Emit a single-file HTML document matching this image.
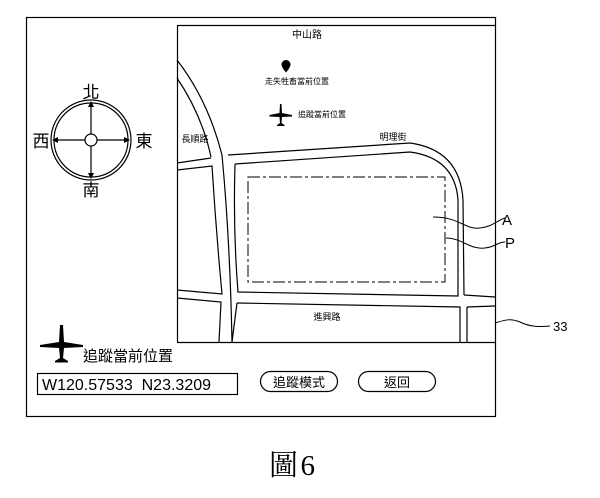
<!DOCTYPE html>
<html><head><meta charset="utf-8"><style>
html,body{margin:0;padding:0;background:#fff;}
svg{display:block;}
text{font-family:"Liberation Sans","Noto Sans CJK TC",sans-serif;fill:#000;}
</style></head><body>
<svg width="600" height="498" viewBox="0 0 600 498" xmlns="http://www.w3.org/2000/svg">
<g fill="none" stroke="#000" stroke-width="1.2">
<rect x="26.5" y="17.5" width="469" height="399"/>
<line x1="177" y1="25.5" x2="495" y2="25.5"/>
<line x1="177.5" y1="25" x2="177.5" y2="342"/>
<line x1="177" y1="342.5" x2="495" y2="342.5"/>
<!-- curved road -->
<path d="M177 60 Q208 100 222 155 Q230 240 232 342"/>
<path d="M177 78 Q202 115 211 157"/>
<path d="M177 163 L211 158"/>
<path d="M177 170 L212 166 Q216 230 222 294 L177 290"/>
<path d="M177 298 L221 302 L219 342"/>
<!-- middle block -->
<path d="M228 155 L410 143 Q460 150 463 200 L464 295"/>
<path d="M235 164 L410 152 Q455 158 458 200 L458 296 L238 292 Q233 230 235 164"/>
<path d="M237 303 L460 307 L460 342"/>
<path d="M237 303 L232 342"/>
<path d="M467 307 L495 306"/>
<path d="M464 295 L495 297"/>
<path d="M467 307 L467 342"/>
<rect x="248" y="177" width="197" height="105" stroke-dasharray="12,3,3,3" stroke-width="1"/>
<path d="M433 217 C460 217 465 230 480 228 C492 227 498 220 505 218" stroke-width="1"/>
<path d="M446 238 C462 238 470 250 485 248 C495 247 498 242 505 242" stroke-width="1"/>
<path d="M495 323 C505 320 510 318 520 322 C530 327 540 327 550 326" stroke-width="1"/>
<circle cx="91" cy="140" r="40"/>
<circle cx="91" cy="140" r="37"/>
<circle cx="91" cy="140" r="6"/>
<line x1="91" y1="134" x2="91" y2="104"/>
<line x1="91" y1="146" x2="91" y2="176"/>
<line x1="85" y1="140" x2="55" y2="140"/>
<line x1="97" y1="140" x2="127" y2="140"/>
<rect x="37.5" y="373.5" width="200" height="21"/>
<rect x="260.5" y="371.5" width="77" height="20" rx="10"/>
<rect x="358.5" y="371.5" width="77" height="20" rx="10"/>
</g>
<g fill="#000">
<path d="M91 101 l-3 6 h6z M91 179 l-3 -6 h6z M52 140 l6 -3 v6z M130 140 l-6 -3 v6z"/>
<path d="M286 60 a4.5 4.5 0 0 1 4.5 4.5 c0 3 -4.5 8 -4.5 8 c0 0 -4.5 -5 -4.5 -8 a4.5 4.5 0 0 1 4.5 -4.5z"/>
<path d="M280 104 h1.5 l0.5 9 l10 2 v1.5 l-10 0.5 l-0.5 6 l3 2 v1 h-7.5 v-1 l3 -2 l-0.5 -6 l-10 -0.5 v-1.5 l10 -2 z"/>
<path d="M60 325 h3 l1 17 l19 3 v2 l-19 1 l-1 10 l5 3 v1.5 h-13 v-1.5 l5 -3 l-1 -10 l-19 -1 v-2 l19 -3 z"/>
</g>
<text x="91" y="98" font-size="17" text-anchor="middle">北</text>
<text x="91" y="196" font-size="17" text-anchor="middle">南</text>
<text x="41" y="147" font-size="17" text-anchor="middle">西</text>
<text x="144" y="147" font-size="17" text-anchor="middle">東</text>
<text x="307" y="38" font-size="10" text-anchor="middle">中山路</text>
<text x="297" y="84" font-size="8" text-anchor="middle">走失牲畜當前位置</text>
<text x="322" y="117" font-size="8" text-anchor="middle">追蹤當前位置</text>
<text x="195" y="142" font-size="9" text-anchor="middle">長順路</text>
<text x="393" y="140" font-size="9" text-anchor="middle">明理街</text>
<text x="327" y="320" font-size="9" text-anchor="middle">進興路</text>
<text x="502" y="225" font-size="15">A</text>
<text x="505" y="248" font-size="15">P</text>
<text x="553" y="331" font-size="13">33</text>
<text x="83" y="361" font-size="15">追蹤當前位置</text>
<text x="42" y="390" font-size="16">W120.57533&#160;&#160;N23.3209</text>
<text x="299" y="387" font-size="13" text-anchor="middle">追蹤模式</text>
<text x="397" y="387" font-size="13" text-anchor="middle">返回</text>
<text x="292" y="475" font-size="29" text-anchor="middle" style="font-family:'Liberation Serif','Noto Serif CJK SC',serif">圖&#8202;6</text>
</svg>
</body></html>
